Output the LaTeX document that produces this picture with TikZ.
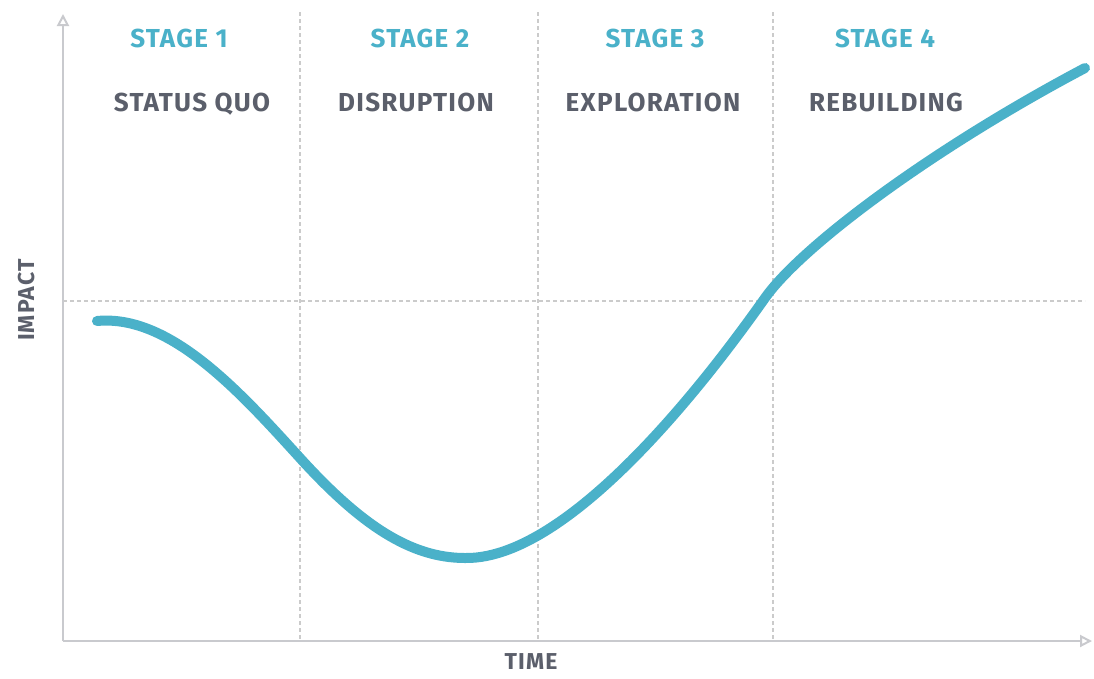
\documentclass[tikz,border=0pt]{standalone}
\usepackage{fontspec}
\setmainfont{Fira Sans}
\newfontfamily\lblfont[LetterSpace=5]{Fira Sans}
\usetikzlibrary{arrows.meta}
\definecolor{teal}{HTML}{4AB1C9}
\definecolor{txtgray}{HTML}{5B5F6B}
\definecolor{axgray}{HTML}{C9CACE}
\definecolor{dashgray}{HTML}{CBCBCB}
\tikzset{
  stagelbl/.style={text=teal, font=\lblfont\bfseries\fontsize{26}{26}\selectfont, anchor=base},
  phaselbl/.style={text=txtgray, font=\lblfont\bfseries\fontsize{26}{26}\selectfont, anchor=base},
  axislbl/.style={text=txtgray, font=\lblfont\bfseries\fontsize{23}{23}\selectfont},
  gridline/.style={draw=dashgray, line width=1.2pt, dash pattern=on 4pt off 3pt},
  axisline/.style={draw=axgray, line width=2.6pt, -{Triangle[open,length=12pt,width=12pt,line width=2pt]}},
}
\begin{document}
\begin{tikzpicture}[x=1pt,y=-1pt]
\useasboundingbox (0,0) rectangle (1094,678);
\fill[white] (0,0) rectangle (1094,678);
% grid
\draw[gridline] (300,12) -- (300,640);
\draw[gridline] (538,12) -- (538,640);
\draw[gridline] (773,12) -- (773,640);
\draw[gridline] (63,301) -- (1085,301);
% axes
\coordinate (o) at (63,641);
\coordinate (ytip) at (63,14);
\coordinate (xtip) at (1092,641);
\draw[axisline] (o) -- (ytip);
\draw[axisline] (o) -- (xtip);
% labels
\node[stagelbl] (s1) at (179,47) {STAGE 1};
\node[stagelbl] (s2) at (420,47) {STAGE 2};
\node[stagelbl] (s3) at (655,47) {STAGE 3};
\node[stagelbl] (s4) at (885,47) {STAGE 4};
\node[phaselbl] (p1) at (192,111) {STATUS QUO};
\node[phaselbl] (p2) at (416,111) {DISRUPTION};
\node[phaselbl] (p3) at (653,111) {EXPLORATION};
\node[phaselbl] (p4) at (886,111) {REBUILDING};
\node[axislbl, rotate=90] (yl) at (27,300) {IMPACT};
\node[axislbl] (xl) at (531,662) {TIME};
% curve
\coordinate (c0) at (97,321);
\coordinate (c1) at (300,458);
\coordinate (c2) at (465,558);
\coordinate (c3) at (765,298);
\coordinate (c4) at (1085,68);
\draw[teal, line width=10pt, line cap=round]
  (c0) .. controls (170,314) and (240,392) .. (c1)
       .. controls (360,524) and (410,558) .. (c2)
       .. controls (580,560) and (735,340) .. (c3)
       .. controls (801,247) and (930,150) .. (c4);
\end{tikzpicture}
\end{document}
